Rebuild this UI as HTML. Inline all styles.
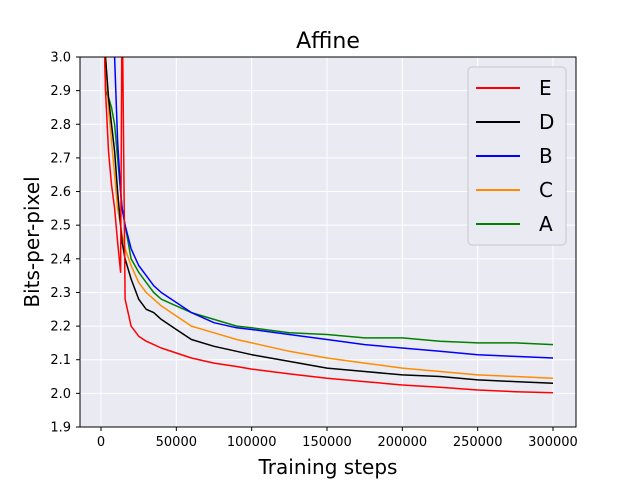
<!DOCTYPE html>
<html><head><meta charset="utf-8"><style>
body{margin:0;background:#fff;}
svg{display:block;font-family:"DejaVu Sans","Liberation Sans",sans-serif;}
</style></head><body>
<svg id="chart" width="640" height="480" viewBox="0 0 640 480">
<defs><clipPath id="clip"><rect x="80" y="57" width="496" height="370"/></clipPath></defs>
<rect x="80" y="57" width="496" height="370" fill="#eaeaf2"/>
<g id="grid"></g>
<g id="series" clip-path="url(#clip)"></g>
<rect x="80" y="57" width="496" height="370" fill="none" stroke="#000" stroke-width="1"/>
<g id="ticks"></g>
<text x="328" y="48" font-size="22" text-anchor="middle">Affine</text>
<text x="328" y="474" font-size="20" text-anchor="middle">Training steps</text>
<text x="0" y="0" font-size="20" text-anchor="middle" transform="translate(39,242) rotate(-90)">Bits-per-pixel</text>
<g id="legend">
<rect x="468" y="67" width="98" height="178" rx="4" fill="#eaeaf2" stroke="#c8c8c8" stroke-width="1"/>
</g>
</svg>
<script>
const steps=[1000,3000,5000,7000,9000,11000,13000,14000,16000,20000,25000,30000,35000,40000,50000,60000,75000,90000,100000,125000,150000,175000,200000,225000,250000,275000,300000];
const seriesNames=["E","D","B","C","A"];
const seriesColors=["#ff0000","#000000","#0000ff","#ff8c00","#008000"];
const valsE=[3.3,2.9,2.72,2.62,2.55,2.45,2.36,3.2,2.28,2.2,2.17,2.155,2.145,2.135,2.12,2.105,2.09,2.08,2.072,2.058,2.045,2.035,2.025,2.018,2.01,2.005,2.002];
const valsD=[3.3,3.0,2.88,2.8,2.72,2.6,2.5,2.45,2.4,2.34,2.28,2.25,2.24,2.22,2.19,2.16,2.14,2.125,2.115,2.095,2.075,2.065,2.055,2.05,2.04,2.035,2.03];
const valsB=[3.4,3.3,3.2,3.1,3.0,2.75,2.6,2.55,2.5,2.43,2.38,2.35,2.32,2.3,2.27,2.24,2.21,2.195,2.19,2.175,2.16,2.145,2.135,2.125,2.115,2.11,2.105];
const valsC=[3.3,3.0,2.85,2.75,2.65,2.55,2.5,2.47,2.43,2.38,2.33,2.3,2.28,2.26,2.23,2.2,2.18,2.16,2.15,2.125,2.105,2.09,2.075,2.065,2.055,2.05,2.045];
const valsA=[3.3,2.9,2.88,2.85,2.8,2.7,2.6,2.55,2.5,2.4,2.36,2.33,2.3,2.28,2.26,2.24,2.22,2.2,2.195,2.18,2.175,2.165,2.165,2.155,2.15,2.15,2.145];
const xTicks=[0,50000,100000,150000,200000,250000,300000];
const yTicks=[1.9,2.0,2.1,2.2,2.3,2.4,2.5,2.6,2.7,2.8,2.9,3.0];
const NS="http://www.w3.org/2000/svg";
function X(v){return 101+v/300000*452;}
function Y(v){return 57+(3.0-v)/1.1*370;}
function mk(t,a,p){const e=document.createElementNS(NS,t);for(const k in a)e.setAttribute(k,a[k]);p.appendChild(e);return e;}
const grid=document.getElementById('grid'),ticks=document.getElementById('ticks');
xTicks.forEach(v=>{
  const g=mk('line',{x1:X(v),x2:X(v),y1:57,y2:427,stroke:'#fff','stroke-width':1},grid);
  
  
  const t=mk('line',{x1:X(v),x2:X(v),y1:427,y2:431,stroke:'#000'},ticks);
  
  
  const l=mk('text',{x:X(v),y:446,'font-size':13,'text-anchor':'middle'},ticks);
  l.textContent=String(v);
  
  
});
yTicks.forEach(v=>{
  const g=mk('line',{x1:80,x2:576,y1:Y(v),y2:Y(v),stroke:'#fff','stroke-width':1},grid);
  
  
  const t=mk('line',{x1:76,x2:80,y1:Y(v),y2:Y(v),stroke:'#000'},ticks);
  
  
  const l=mk('text',{x:71,y:Y(v)+4.5,'font-size':13,'text-anchor':'end'},ticks);
  l.textContent=v.toFixed(1);
  
  
});
const allVals=[valsE,valsD,valsB,valsC,valsA];
const sg=document.getElementById('series');
for(let i=allVals.length-1;i>=0;i--){
  const pts=steps.map((s,j)=>X(s).toFixed(1)+','+Y(allVals[i][j]).toFixed(1)).join(' ');
  const pl=mk('polyline',{points:pts,fill:'none',stroke:seriesColors[i],'stroke-width':1.5,'stroke-linejoin':'round'},sg);
  
  
}
const lg=document.getElementById('legend');
seriesNames.forEach((n,i)=>{
  const y=88+i*34;
  const ln=mk('line',{x1:476,x2:520,y1:y,y2:y,stroke:seriesColors[i],'stroke-width':2},lg);
  
  
  const t=mk('text',{x:539,y:y+7,'font-size':20},lg);
  t.textContent=n;
  
  
});
</script>
</body></html>
